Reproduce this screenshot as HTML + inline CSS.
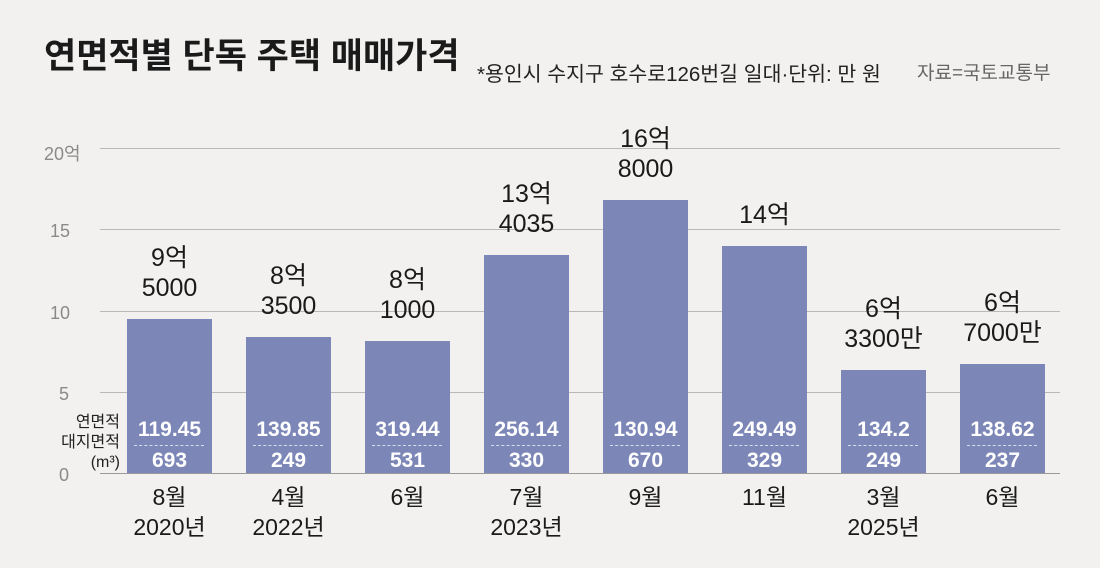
<!DOCTYPE html>
<html><head><meta charset="utf-8"><style>
body{margin:0;width:1100px;height:568px;background:#f2f1ef;position:relative;overflow:hidden;font-family:"Liberation Sans","Noto Sans CJK KR",sans-serif;}
.a{position:absolute;white-space:nowrap}
.g{position:absolute;left:100px;width:960px;height:1px;background:#b9b9b9}
.yl{position:absolute;left:44px;width:50px;color:#8a8a8a;font-size:18px;text-align:left}
.bar{position:absolute;width:85px;background:#7c87b8}
.pl{position:absolute;width:160px;text-align:center;font-size:25px;line-height:30px;color:#1a1a1a}
.v{position:absolute;width:85px;text-align:center;color:#fff;font-weight:bold;font-size:21px}
.dl{position:absolute;width:70px;border-top:1px dashed #d8dcef}
.xl{position:absolute;width:160px;text-align:center;font-size:23px;line-height:30px;color:#1a1a1a}
</style></head><body>
<div class="a" style="left:44px;top:28px;font-size:35px;font-weight:bold;color:#1a1a1a">연면적별 단독 주택 매매가격</div>
<div class="a" style="left:477px;top:57px;font-size:20.5px;color:#222">*용인시 수지구 호수로126번길 일대·단위: 만 원</div>
<div class="a" style="left:917px;top:58px;font-size:19px;color:#666">자료=국토교통부</div>
<div class="g" style="top:148px"></div>
<div class="g" style="top:229px"></div>
<div class="g" style="top:311px"></div>
<div class="g" style="top:392px"></div>
<div class="g" style="top:473px;background:#999"></div>
<div class="yl" style="top:140px">20억</div>
<div class="yl" style="top:221px;left:50px">15</div>
<div class="yl" style="top:303px;left:50px">10</div>
<div class="yl" style="top:384px;left:59px">5</div>
<div class="yl" style="top:465px;left:59px">0</div>
<div class="a" style="left:54px;top:413px;font-size:16px;line-height:20px;color:#222;text-align:right;width:66px">연면적<br>대지면적<br>(m³)</div>
<div id="c"></div>
<script>
var d=[[9.5,"9억","5000","119.45","693","8월","2020년"],[8.35,"8억","3500","139.85","249","4월","2022년"],[8.1,"8억","1000","319.44","531","6월",""],[13.4035,"13억","4035","256.14","330","7월","2023년"],[16.8,"16억","8000","130.94","670","9월",""],[14,"14억","","249.49","329","11월",""],[6.33,"6억","3300만","134.2","249","3월","2025년"],[6.7,"6억","7000만","138.62","237","6월",""]];
var h="";
d.forEach(function(r,i){var x=127+i*119,t=473-r[0]*16.25,cx=x+42.5;
h+='<div class="bar" style="left:'+x+'px;top:'+t+'px;height:'+(473-t)+'px"></div>';
var lines=r[2]?2:1,top=t-16-lines*30;
h+='<div class="pl" style="left:'+(cx-80)+'px;top:'+top+'px">'+r[1]+(r[2]?'<br>'+r[2]:'')+'</div>';
h+='<div class="v" style="left:'+x+'px;top:418px">'+r[3]+'</div>';
h+='<div class="dl" style="left:'+(x+7)+'px;top:445px"></div>';
h+='<div class="v" style="left:'+x+'px;top:449px">'+r[4]+'</div>';
h+='<div class="xl" style="left:'+(cx-80)+'px;top:482px">'+r[5]+(r[6]?'<br>'+r[6]:'')+'</div>';});
document.getElementById("c").innerHTML=h;
</script>
</body></html>
